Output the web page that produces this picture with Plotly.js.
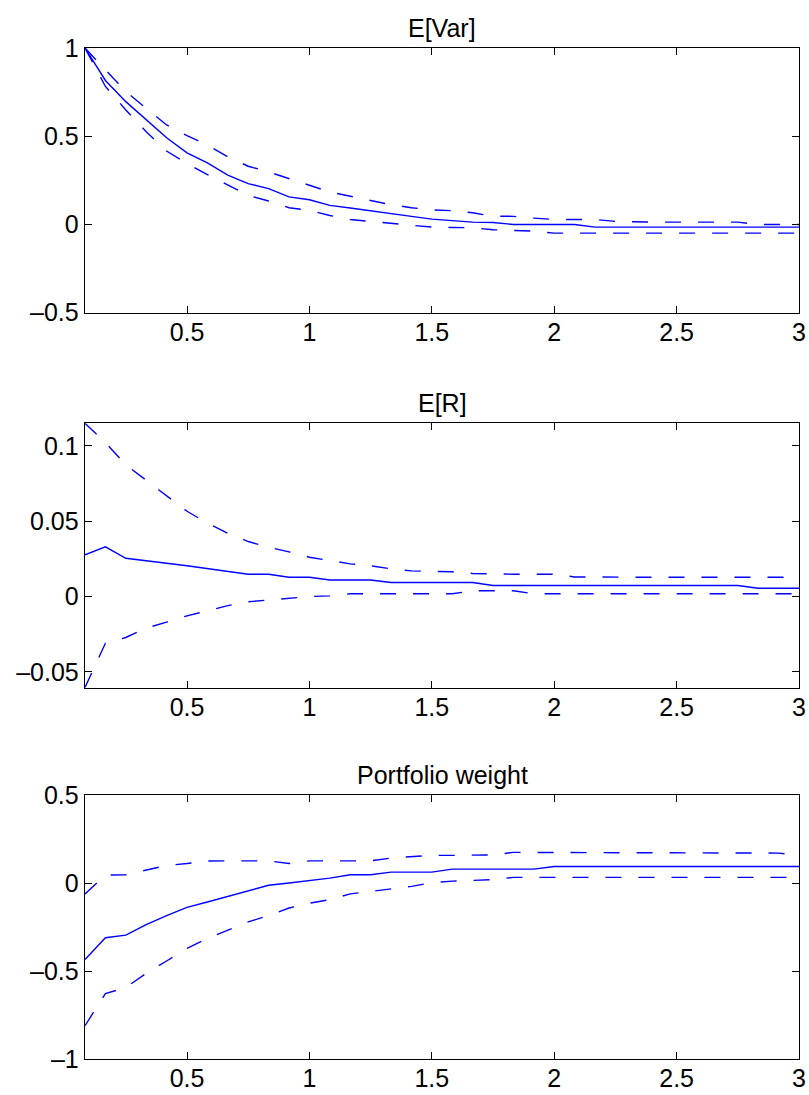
<!DOCTYPE html>
<html>
<head>
<meta charset="utf-8">
<script src="https://cdn.plot.ly/plotly-3.0.1.min.js"></script>
<style>
  html, body { margin: 0; padding: 0; background: #ffffff; }
  #chart { width: 809px; height: 1095px; }
</style>
</head>
<body>
<div id="chart"></div>
<script>
// Horizon (years), monthly steps
var horizon = [0.0833,0.1667,0.25,0.3333,0.4167,0.5,0.5833,0.6667,0.75,0.8333,0.9167,1,
               1.0833,1.1667,1.25,1.3333,1.4167,1.5,1.5833,1.6667,1.75,1.8333,1.9167,2,
               2.0833,2.1667,2.25,2.3333,2.4167,2.5,2.5833,2.6667,2.75,2.8333,2.9167,3];

// Panel 1: E[Var]
var varMean = [1.0,0.816,0.696,0.592,0.491,0.406,0.349,0.279,0.231,0.203,0.156,0.140,
               0.108,0.093,0.076,0.061,0.046,0.030,0.023,0.013,0.011,0,0,0,
               0,-0.015,-0.015,-0.015,-0.015,-0.015,-0.015,-0.015,-0.015,-0.015,-0.015,-0.015];
var varUp   = [1.0,0.877,0.753,0.658,0.564,0.503,0.450,0.383,0.330,0.298,0.258,0.222,
               0.184,0.161,0.135,0.112,0.095,0.083,0.078,0.066,0.047,0.046,0.036,0.028,
               0.028,0.028,0.017,0.013,0.013,0.013,0.013,0.013,0.013,0,0,0];
var varLo   = [1.0,0.782,0.649,0.526,0.416,0.345,0.283,0.222,0.165,0.133,0.095,0.080,
               0.051,0.028,0.017,0.009,-0.005,-0.015,-0.017,-0.019,-0.030,-0.034,-0.038,-0.049,
               -0.049,-0.049,-0.049,-0.049,-0.049,-0.049,-0.049,-0.049,-0.049,-0.049,-0.049,-0.049];

// Panel 2: E[R]
var retMean = [0.0277,0.033,0.0254,0.0239,0.0221,0.0204,0.0184,0.0166,0.0148,0.0148,0.0128,0.0128,
               0.011,0.011,0.011,0.0093,0.0093,0.0093,0.0093,0.0093,0.0073,0.0073,0.0073,0.0073,
               0.0073,0.0073,0.0073,0.0073,0.0073,0.0073,0.0073,0.0073,0.0073,0.0055,0.0055,0.0055];
var retUp   = [0.1150,0.1022,0.0874,0.0772,0.0664,0.0566,0.0487,0.0420,0.0365,0.0327,0.0296,0.0261,
               0.0239,0.0217,0.0204,0.0184,0.0170,0.0166,0.0164,0.0153,0.0148,0.0148,0.0148,0.0148,
               0.0130,0.0128,0.0128,0.0128,0.0128,0.0128,0.0128,0.0128,0.0128,0.0128,0.0128,0.0128];
var retLo   = [-0.0604,-0.031,-0.0272,-0.0210,-0.0170,-0.0128,-0.0095,-0.0060,-0.0035,-0.0022,-0.0013,0,
               0.0004,0.0018,0.0018,0.0018,0.0018,0.0018,0.0018,0.0038,0.0040,0.0038,0.0018,0.0018,
               0.0018,0.0018,0.0018,0.0018,0.0018,0.0018,0.0018,0.0018,0.0018,0.0018,0.0018,0.0018];

// Panel 3: Portfolio weight
var wMean = [-0.434,-0.311,-0.296,-0.236,-0.185,-0.138,-0.108,-0.075,-0.043,-0.013,0,0.013,
             0.028,0.047,0.047,0.062,0.062,0.062,0.079,0.079,0.079,0.079,0.079,0.094,
             0.094,0.094,0.094,0.094,0.094,0.094,0.094,0.094,0.094,0.094,0.094,0.094];
var wUp   = [-0.062,0.045,0.047,0.072,0.100,0.111,0.125,0.126,0.126,0.126,0.111,0.126,
             0.126,0.126,0.126,0.142,0.151,0.157,0.157,0.157,0.160,0.174,0.174,0.174,
             0.174,0.174,0.174,0.174,0.174,0.174,0.174,0.174,0.174,0.174,0.170,0.157];
var wLo   = [-0.811,-0.628,-0.594,-0.513,-0.443,-0.372,-0.315,-0.270,-0.221,-0.185,-0.142,-0.115,
             -0.094,-0.062,-0.047,-0.032,-0.019,0.002,0.011,0.015,0.019,0.032,0.032,0.032,
             0.032,0.032,0.032,0.032,0.032,0.032,0.032,0.032,0.032,0.032,0.032,0.032];

// Tick labels
var xTickVals = [0.5,1,1.5,2,2.5,3];
var xTickText = ['0.5','1','1.5','2','2.5','3'];
var y1TickVals = [-0.5,0,0.5,1];
var y1TickText = ['\u20130.5','0','0.5','1'];
var y2TickVals = [-0.05,0,0.05,0.1];
var y2TickText = ['\u20130.05','0','0.05','0.1'];
var y3TickVals = [-1,-0.5,0,0.5];
var y3TickText = ['\u20131','\u20130.5','0','0.5'];

var titles = ['E[Var]','E[R]','Portfolio weight'];

var BLUE = '#0000ff';
var FONT = 'Liberation Sans, Arial, Helvetica, sans-serif';
var FS = 25;

function tr(y, xa, ya, dashed) {
  return {
    x: horizon, y: y, xaxis: xa, yaxis: ya, type: 'scatter', mode: 'lines',
    line: { color: BLUE, width: 1.4, dash: dashed ? '16px,17px' : 'solid' },
    hoverinfo: 'skip'
  };
}

var data = [
  tr(varMean,'x','y',false), tr(varUp,'x','y',true), tr(varLo,'x','y',true),
  tr(retMean,'x2','y2',false), tr(retUp,'x2','y2',true), tr(retLo,'x2','y2',true),
  tr(wMean,'x3','y3',false), tr(wUp,'x3','y3',true), tr(wLo,'x3','y3',true)
];

function xax(anchor) {
  return {
    anchor: anchor, domain: [0,1], range: [0.0833, 3],
    tickmode: 'array', tickvals: xTickVals, ticktext: xTickText,
    ticks: 'inside', ticklen: 7, tickwidth: 1, tickcolor: '#000',
    mirror: 'allticks', showline: true, linecolor: '#000', linewidth: 1.3,
    showgrid: false, zeroline: false, ticklabelstandoff: -3,
    tickfont: { family: FONT, size: FS, color: '#000' }
  };
}
function yax(anchor, dom, rng, tv, tt) {
  return {
    anchor: anchor, domain: dom, range: rng,
    tickmode: 'array', tickvals: tv, ticktext: tt,
    ticks: 'inside', ticklen: 7, tickwidth: 1, tickcolor: '#000',
    mirror: 'allticks', showline: true, linecolor: '#000', linewidth: 1.3,
    showgrid: false, zeroline: false, ticklabelstandoff: 0,
    tickfont: { family: FONT, size: FS, color: '#000' }
  };
}

var d1 = [0.7382, 1.0], d2 = [0.3673, 0.6288], d3 = [0.0, 0.2611];

var layout = {
  width: 809, height: 1095,
  margin: { l: 85, r: 10, t: 48, b: 36 },
  paper_bgcolor: '#ffffff', plot_bgcolor: '#ffffff',
  showlegend: false,
  xaxis: xax('y'), xaxis2: xax('y2'), xaxis3: xax('y3'),
  yaxis: yax('x', d1, [-0.5, 1], y1TickVals, y1TickText),
  yaxis2: yax('x2', d2, [-0.0605, 0.115], y2TickVals, y2TickText),
  yaxis3: yax('x3', d3, [-1, 0.5], y3TickVals, y3TickText),
  annotations: [
    { text: titles[0], xref: 'paper', yref: 'paper', x: 0.5, y: d1[1], xanchor: 'center', yanchor: 'bottom', yshift: 4, showarrow: false, font: { family: FONT, size: FS, color: '#000' } },
    { text: titles[1], xref: 'paper', yref: 'paper', x: 0.5, y: d2[1], xanchor: 'center', yanchor: 'bottom', yshift: 4, showarrow: false, font: { family: FONT, size: FS, color: '#000' } },
    { text: titles[2], xref: 'paper', yref: 'paper', x: 0.5, y: d3[1], xanchor: 'center', yanchor: 'bottom', yshift: 4, showarrow: false, font: { family: FONT, size: FS, color: '#000' } }
  ]
};

Plotly.newPlot('chart', data, layout, { staticPlot: true, displayModeBar: false });
</script>
</body>
</html>
